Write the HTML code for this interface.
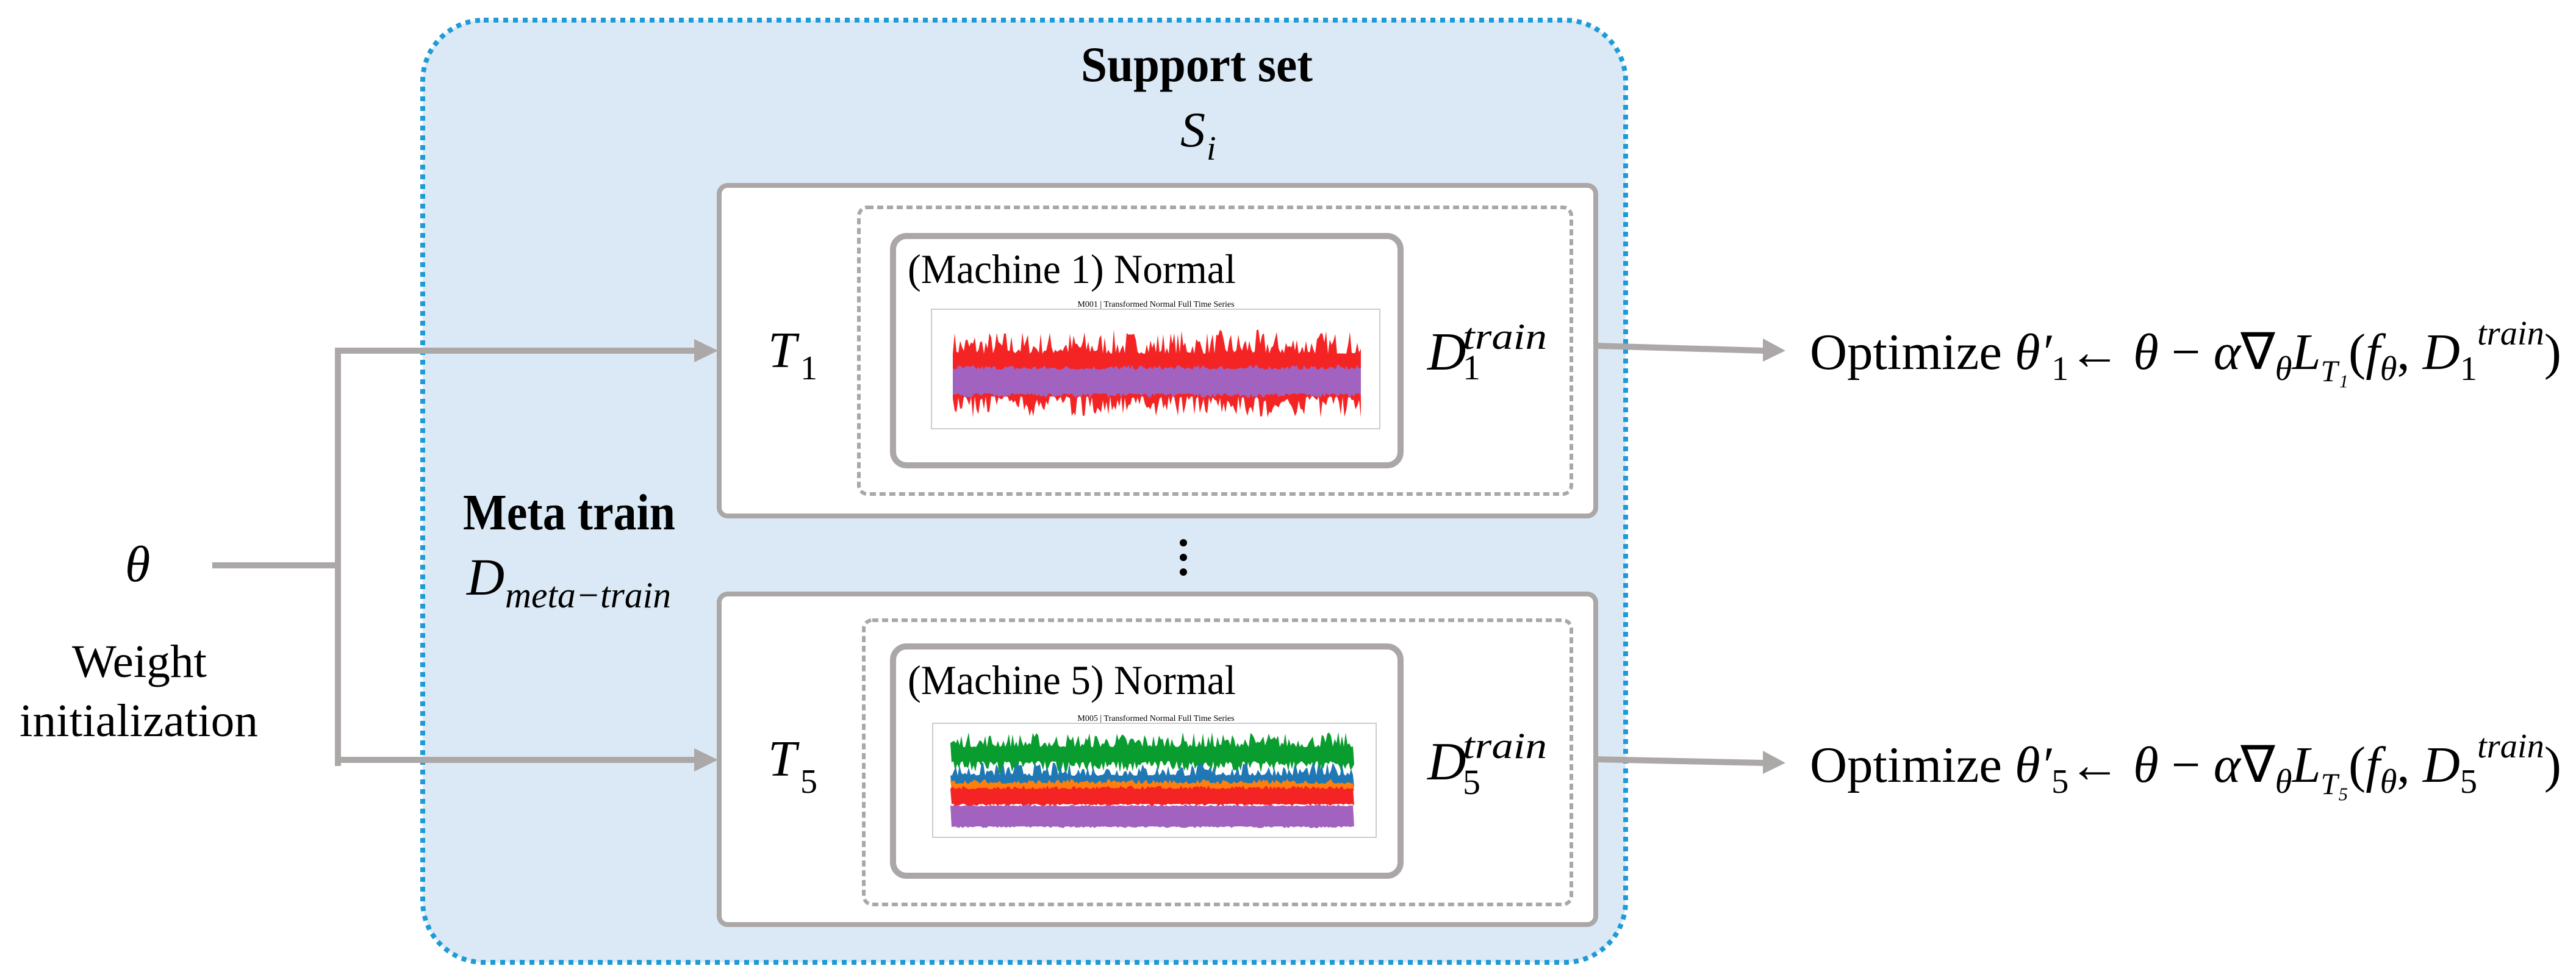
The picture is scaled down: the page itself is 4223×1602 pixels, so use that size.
<!DOCTYPE html>
<html><head><meta charset="utf-8"><style>
html,body{margin:0;padding:0;background:#fff}
svg{display:block}
text{font-family:"Liberation Serif",serif;fill:#000}
</style></head><body>
<svg id="s" width="4223" height="1602" viewBox="0 0 4223 1602" xmlns="http://www.w3.org/2000/svg">
<rect x="693" y="33" width="1972" height="1545" rx="100" fill="#dbe9f6" stroke="#1e9bd7" stroke-width="8" stroke-dasharray="8 8"/>
<text x="1772" y="133" font-size="82" font-weight="bold" textLength="380" lengthAdjust="spacingAndGlyphs">Support set</text>
<text x="1935" y="240" font-size="82" font-style="italic">S</text>
<text x="1978" y="262" font-size="56" font-style="italic">i</text>
<text x="759" y="868" font-size="84" font-weight="bold" textLength="348" lengthAdjust="spacingAndGlyphs">Meta train</text>
<text x="765" y="975" font-size="86" font-style="italic">D</text>
<text x="828" y="996" font-size="60" font-style="italic" textLength="272" lengthAdjust="spacingAndGlyphs">meta−train</text>
<circle cx="1940" cy="890" r="6"/><circle cx="1940" cy="914" r="6"/><circle cx="1940" cy="938" r="6"/>

<rect x="1179" y="304" width="1437" height="542" rx="14" fill="#fff" stroke="#aba7a7" stroke-width="8"/>
<rect x="1408" y="340" width="1168" height="470" rx="14" fill="none" stroke="#aba7a7" stroke-width="6" stroke-dasharray="10 6"/>
<rect x="1464" y="387" width="832" height="376" rx="22" fill="#fff" stroke="#aba7a7" stroke-width="10"/>
<text x="1488" y="464" font-size="68" textLength="538" lengthAdjust="spacingAndGlyphs">(Machine 1) Normal</text>
<text x="1895" y="503" font-size="14" text-anchor="middle" font-family="Liberation Sans">M001 | Transformed Normal Full Time Series</text>
<rect x="1527" y="507" width="735" height="196" fill="#fff" stroke="#ccc" stroke-width="2"/>
<g id="c1"></g>
<text x="1259" y="602" font-size="84" font-style="italic">T</text>
<text x="1312" y="622" font-size="56">1</text>
<text x="2340" y="606" font-size="88" font-style="italic">D</text>
<text x="2398" y="572" font-size="60" font-style="italic" textLength="138" lengthAdjust="spacingAndGlyphs">train</text>
<text x="2398" y="622" font-size="58">1</text>

<rect x="1179" y="974" width="1437" height="542" rx="14" fill="#fff" stroke="#aba7a7" stroke-width="8"/>
<rect x="1416" y="1017" width="1160" height="466" rx="14" fill="none" stroke="#aba7a7" stroke-width="6" stroke-dasharray="10 6"/>
<rect x="1464" y="1060" width="832" height="376" rx="22" fill="#fff" stroke="#aba7a7" stroke-width="10"/>
<text x="1488" y="1138" font-size="68" textLength="538" lengthAdjust="spacingAndGlyphs">(Machine 5) Normal</text>
<text x="1895" y="1182" font-size="14" text-anchor="middle" font-family="Liberation Sans">M005 | Transformed Normal Full Time Series</text>
<rect x="1529" y="1186" width="727" height="187" fill="#fff" stroke="#ccc" stroke-width="2"/>
<g id="c2"></g>
<text x="1259" y="1272" font-size="84" font-style="italic">T</text>
<text x="1312" y="1300" font-size="56">5</text>
<text x="2340" y="1278" font-size="88" font-style="italic">D</text>
<text x="2398" y="1243" font-size="60" font-style="italic" textLength="138" lengthAdjust="spacingAndGlyphs">train</text>
<text x="2398" y="1302" font-size="58">5</text>

<g fill="#aca8a8">
<rect x="348" y="922" width="210" height="10"/>
<rect x="549" y="570" width="10" height="686"/>
<rect x="549" y="570" width="595" height="10"/>
<rect x="549" y="1241" width="595" height="10"/>
<polygon points="1138,556 1177,575 1138,594"/>
<polygon points="1138,1227 1177,1246 1138,1265"/>
<polygon points="2616,562 2892,570 2892,580 2616,572"/>
<polygon points="2890,555 2927,575 2890,593"/>
<polygon points="2616,1240 2892,1246 2892,1256 2616,1250"/>
<polygon points="2890,1231 2927,1251 2890,1269"/>
</g>
<text x="205" y="953" font-size="84" font-style="italic">θ</text>
<text x="118" y="1110" font-size="76" textLength="221" lengthAdjust="spacingAndGlyphs">Weight</text>
<text x="32" y="1207" font-size="76" textLength="391" lengthAdjust="spacingAndGlyphs">initialization</text>

<text x="2967" y="605" font-size="84" textLength="1232" lengthAdjust="spacingAndGlyphs">Optimize <tspan font-style="italic">θ′</tspan><tspan font-size="56" dy="18">1</tspan><tspan dy="-18">← </tspan><tspan font-style="italic">θ</tspan> − <tspan font-style="italic">α</tspan>∇<tspan font-size="56" font-style="italic" dy="18">θ</tspan><tspan font-style="italic" dy="-18">L</tspan><tspan font-size="50" font-style="italic" dy="20">T₁</tspan><tspan dy="-20">(</tspan><tspan font-style="italic">f</tspan><tspan font-size="56" font-style="italic" dy="18">θ</tspan><tspan dy="-18">, </tspan><tspan font-style="italic">D</tspan><tspan font-size="56" dy="18">1</tspan><tspan font-size="56" font-style="italic" dy="-58">train</tspan><tspan dy="40">)</tspan></text>
<text x="2967" y="1282" font-size="84" textLength="1232" lengthAdjust="spacingAndGlyphs">Optimize <tspan font-style="italic">θ′</tspan><tspan font-size="56" dy="18">5</tspan><tspan dy="-18">← </tspan><tspan font-style="italic">θ</tspan> − <tspan font-style="italic">α</tspan>∇<tspan font-size="56" font-style="italic" dy="18">θ</tspan><tspan font-style="italic" dy="-18">L</tspan><tspan font-size="50" font-style="italic" dy="20">T₅</tspan><tspan dy="-20">(</tspan><tspan font-style="italic">f</tspan><tspan font-size="56" font-style="italic" dy="18">θ</tspan><tspan dy="-18">, </tspan><tspan font-style="italic">D</tspan><tspan font-size="56" dy="18">5</tspan><tspan font-size="56" font-style="italic" dy="-58">train</tspan><tspan dy="40">)</tspan></text>
</svg>
<script>
(function(){
var seed=7;function r(){seed=(seed*16807)%2147483647;return seed/2147483647;}
function band(g,x0,x1,top,ta,bot,ba,col,p){
 var up=[],dn=[];
 for(var x=x0;x<=x1;x+=3){up.push(x+","+(top-Math.pow(r(),p)*ta).toFixed(1));}
 for(var x=x1;x>=x0;x-=3){dn.push(x+","+(bot+Math.pow(r(),p)*ba).toFixed(1));}
 var e=document.createElementNS("http://www.w3.org/2000/svg","polygon");
 e.setAttribute("points",up.concat(dn).join(" "));e.setAttribute("fill",col);
 document.getElementById(g).appendChild(e);
}
band("c1",1562,2231,580,40,650,35,"#f52424",2);
band("c1",1562,2231,606,8,645,8,"#a163bf",2);
band("c2",1558,2220,1225,25,1248,20,"#099c2e",2);
band("c2",1558,2220,1272,22,1290,5,"#1f77b4",2);
band("c2",1558,2220,1285,8,1295,4,"#ff7f0e",2);
band("c2",1558,2220,1294,6,1318,4,"#f52424",2);
band("c2",1558,2220,1322,3,1355,3,"#a163bf",2);
})();
</script>
</body></html>
